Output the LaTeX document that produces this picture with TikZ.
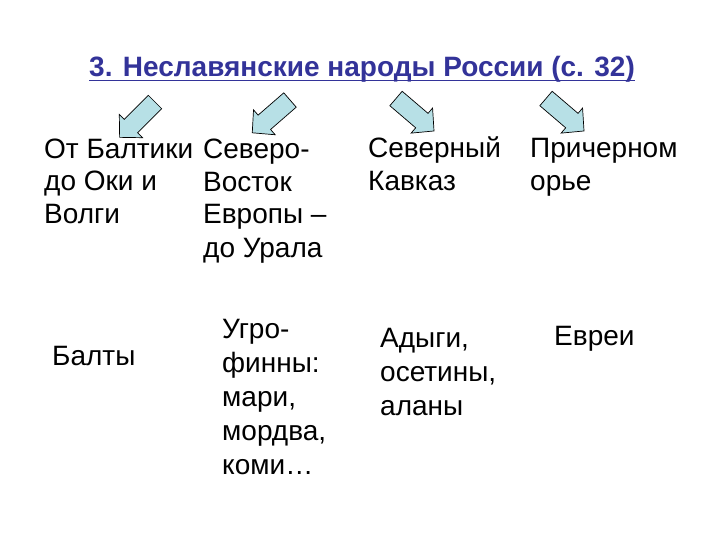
\documentclass[tikz,border=0pt]{standalone}
\usepackage{fontspec}
\setmainfont{Liberation Sans}
\definecolor{titleblue}{RGB}{51,51,153}
\definecolor{arrowfill}{RGB}{183,224,230}
\tikzset{
  txt/.style={inner sep=0pt, anchor=base west, align=left, font=\fontsize{28}{33}\selectfont},
  lowtxt/.style={inner sep=0pt, anchor=base west, align=left, font=\fontsize{28}{34}\selectfont},
  blockarrow/.style={draw=black, line width=0.7pt, fill=arrowfill, line join=miter}
}
\newcommand\myarrow[2]{% #1 tail point, #2 canvas angle
  \begin{scope}[shift={#1}, rotate=#2]
    \draw[blockarrow] (0,-9.5) -- (34,-9.5) -- (34,-16.5) -- (50,0) -- (34,16.5) -- (34,9.5) -- (0,9.5) -- cycle;
  \end{scope}}
\begin{document}
\begin{tikzpicture}[x=1pt,y=-1pt]
\useasboundingbox[fill=white] (0,0) rectangle (720,540);
% title
\node[inner sep=0pt, anchor=base west, text=titleblue, font=\fontsize{28}{32}\selectfont\bfseries] (title) at (89,77) {3. Неславянские народы России (с. 32)};
\draw[titleblue, line width=1.6pt] ([yshift=-3.5pt]title.base west) -- ([yshift=-3.5pt]title.base east);
% arrows
\myarrow{(155,102)}{225}
\myarrow{(290,100)}{221}
\myarrow{(396,98.5)}{-40.5}
\myarrow{(546,98.5)}{-40.5}
% top row (base anchor = last line's baseline)
\node[txt] (c1) at (44,224) {От Балтики\\до Оки и\\Волги};
\node[txt] (c2) at (203,257) {Северо-\\Восток\\Европы –\\до Урала};
\node[txt] (c3) at (368,191) {Северный\\Кавказ};
\node[txt] (c4) at (530,191) {Причерном\\орье};
% lower row
\node[lowtxt] (d1) at (52,365) {Балты};
\node[lowtxt] (d2) at (222,474) {Угро-\\финны:\\мари,\\мордва,\\коми…};
\node[lowtxt] (d3) at (380,415) {Адыги,\\осетины,\\аланы};
\node[lowtxt] (d4) at (554,345) {Евреи};
\end{tikzpicture}
\end{document}
